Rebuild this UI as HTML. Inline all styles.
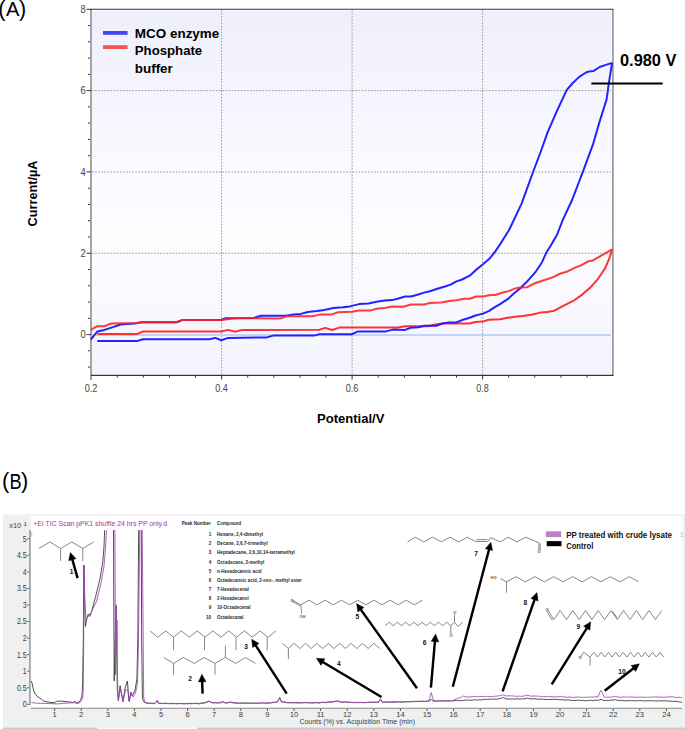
<!DOCTYPE html>
<html><head><meta charset="utf-8"><style>
html,body{margin:0;padding:0;background:#fff;overflow:hidden}
svg{display:block}
text{font-family:"Liberation Sans",sans-serif}
</style></head><body>
<svg width="685" height="729" viewBox="0 0 685 729" font-family="Liberation Sans, sans-serif">
<rect width="685" height="729" fill="#fff"/>
<text x="-1.8" y="15.6" font-size="21.5">(</text><text x="6.0" y="16.4" font-size="20.2" textLength="13.4" lengthAdjust="spacingAndGlyphs">A</text><text x="19.0" y="15.6" font-size="21.5">)</text>
<defs><linearGradient id="bg" x1="0" y1="0" x2="0" y2="1"><stop offset="0" stop-color="#efeffc"/><stop offset="0.11" stop-color="#f2f2fd"/><stop offset="0.25" stop-color="#f5f5fe"/><stop offset="0.42" stop-color="#f9f9ff"/><stop offset="0.62" stop-color="#fdfdff"/><stop offset="0.69" stop-color="#fbfbfe"/><stop offset="0.8" stop-color="#f8f8fe"/><stop offset="0.93" stop-color="#f5f5fe"/><stop offset="1" stop-color="#f4f4fd"/></linearGradient></defs>
<rect x="92" y="10" width="520" height="365" fill="url(#bg)"/>
<line x1="92" y1="10.5" x2="611" y2="10.5" stroke="#fff" stroke-width="1"/>
<line x1="611.5" y1="10" x2="611.5" y2="374.5" stroke="#fff" stroke-width="1"/>
<line x1="92" y1="374.4" x2="611" y2="374.4" stroke="#fff" stroke-width="1"/>
<g stroke="#9a9a9a" stroke-width="1" stroke-dasharray="1.6 1.5"><line x1="221.6" y1="10" x2="221.6" y2="374"/><line x1="352.1" y1="10" x2="352.1" y2="374"/><line x1="482.6" y1="10" x2="482.6" y2="374"/><line x1="92" y1="90.6" x2="611" y2="90.6"/><line x1="92" y1="172.0" x2="611" y2="172.0"/><line x1="92" y1="253.3" x2="611" y2="253.3"/></g>
<line x1="92" y1="334.9" x2="611" y2="334.9" stroke="#b2c8f2" stroke-width="1.5"/>
<line x1="91" y1="9" x2="91" y2="380" stroke="#a3a3a3" stroke-width="2"/>
<line x1="612.9" y1="9" x2="612.9" y2="376" stroke="#9a9aa4" stroke-width="1.8"/>
<line x1="90" y1="9.3" x2="613.3" y2="9.3" stroke="#333" stroke-width="1.1"/>
<line x1="91" y1="375.4" x2="613.3" y2="375.4" stroke="#333" stroke-width="1.1"/>
<g stroke="#333" stroke-width="1"><line x1="86.5" y1="9.3" x2="90.8" y2="9.3"/><line x1="88" y1="25.6" x2="90" y2="25.6"/><line x1="88" y1="41.8" x2="90" y2="41.8"/><line x1="88" y1="58.1" x2="90" y2="58.1"/><line x1="88" y1="74.4" x2="90" y2="74.4"/><line x1="86.5" y1="90.6" x2="90.8" y2="90.6"/><line x1="88" y1="106.9" x2="90" y2="106.9"/><line x1="88" y1="123.1" x2="90" y2="123.1"/><line x1="88" y1="139.4" x2="90" y2="139.4"/><line x1="88" y1="155.7" x2="90" y2="155.7"/><line x1="86.5" y1="171.9" x2="90.8" y2="171.9"/><line x1="88" y1="188.2" x2="90" y2="188.2"/><line x1="88" y1="204.5" x2="90" y2="204.5"/><line x1="88" y1="220.7" x2="90" y2="220.7"/><line x1="88" y1="237.0" x2="90" y2="237.0"/><line x1="86.5" y1="253.3" x2="90.8" y2="253.3"/><line x1="88" y1="269.5" x2="90" y2="269.5"/><line x1="88" y1="285.8" x2="90" y2="285.8"/><line x1="88" y1="302.1" x2="90" y2="302.1"/><line x1="88" y1="318.3" x2="90" y2="318.3"/><line x1="86.5" y1="334.6" x2="90.8" y2="334.6"/><line x1="88" y1="350.8" x2="90" y2="350.8"/><line x1="88" y1="367.1" x2="90" y2="367.1"/><line x1="117.2" y1="375.5" x2="117.2" y2="377.6"/><line x1="143.3" y1="375.5" x2="143.3" y2="377.6"/><line x1="169.4" y1="375.5" x2="169.4" y2="377.6"/><line x1="195.5" y1="375.5" x2="195.5" y2="377.6"/><line x1="221.6" y1="375.5" x2="221.6" y2="379.5"/><line x1="247.7" y1="375.5" x2="247.7" y2="377.6"/><line x1="273.8" y1="375.5" x2="273.8" y2="377.6"/><line x1="299.9" y1="375.5" x2="299.9" y2="377.6"/><line x1="326.0" y1="375.5" x2="326.0" y2="377.6"/><line x1="352.1" y1="375.5" x2="352.1" y2="379.5"/><line x1="378.2" y1="375.5" x2="378.2" y2="377.6"/><line x1="404.3" y1="375.5" x2="404.3" y2="377.6"/><line x1="430.4" y1="375.5" x2="430.4" y2="377.6"/><line x1="456.5" y1="375.5" x2="456.5" y2="377.6"/><line x1="482.6" y1="375.5" x2="482.6" y2="379.5"/><line x1="508.7" y1="375.5" x2="508.7" y2="377.6"/><line x1="534.8" y1="375.5" x2="534.8" y2="377.6"/><line x1="560.9" y1="375.5" x2="560.9" y2="377.6"/><line x1="587.0" y1="375.5" x2="587.0" y2="377.6"/></g>
<g font-size="10.4" fill="#444"><text x="85.6" y="13.0" text-anchor="end" textLength="5.2" lengthAdjust="spacingAndGlyphs">8</text><text x="85.6" y="94.3" text-anchor="end" textLength="5.2" lengthAdjust="spacingAndGlyphs">6</text><text x="85.6" y="175.7" text-anchor="end" textLength="5.2" lengthAdjust="spacingAndGlyphs">4</text><text x="85.6" y="257.0" text-anchor="end" textLength="5.2" lengthAdjust="spacingAndGlyphs">2</text><text x="85.6" y="338.3" text-anchor="end" textLength="5.2" lengthAdjust="spacingAndGlyphs">0</text><text x="84.8" y="392.2" textLength="12.6" lengthAdjust="spacingAndGlyphs">0.2</text><text x="215.3" y="392.2" textLength="12.6" lengthAdjust="spacingAndGlyphs">0.4</text><text x="345.8" y="392.2" textLength="12.6" lengthAdjust="spacingAndGlyphs">0.6</text><text x="476.3" y="392.2" textLength="12.6" lengthAdjust="spacingAndGlyphs">0.8</text></g>
<g fill="none" stroke-width="2" stroke-linejoin="round">
<polyline points="612.1,249.4 609.5,257.8 605.1,268.3 598.1,278.8 591.1,286.7 582.3,294.6 573.6,300.7 564.8,305.1 554.3,310.7 547.3,312.1 540.3,312.6 531.5,314.7 522.8,316.1 515.2,316.8 507.6,317.8 500.1,319.3 488.7,319.7 483.0,321.6 475.4,322.0 469.7,323.5 443.1,323.5 435.5,324.4 428.0,326.3 405.2,326.3 397.6,327.6 339.3,327.6 332.3,330.0 325.3,327.9 319.4,329.8 248.0,329.9 242.2,329.9 235.2,331.7 228.2,329.9 221.2,331.5 142.9,331.5 137.0,334.1 97.3,334.1" stroke="#ff3030"/>
<polyline points="612.1,62.9 609.3,80.2 606.6,99.4 599.7,121.3 592.9,144.7 583.3,170.7 572.3,199.5 562.7,220.1 556.9,235.0 550.8,245.5 546.4,252.5 542.0,262.2 535.0,272.7 526.3,282.3 520.0,288.5 513.3,294.1 507.6,299.2 500.1,304.1 494.4,307.4 488.7,311.2 483.0,313.6 475.4,315.5 469.7,317.8 463.1,319.7 456.4,322.5 448.8,322.5 442.2,323.5 436.5,325.8 424.2,325.8 418.5,327.3 410.9,327.7 404.2,330.1 393.0,329.6 386.0,331.4 358.0,331.4 352.1,334.2 319.4,334.2 314.8,335.4 273.9,335.4 266.9,337.4 228.2,337.9 221.2,340.2 215.3,337.9 209.5,339.3 142.9,339.3 137.0,341.1 97.3,341.1" stroke="#2222ff"/>
<polyline points="90.8,339.7 97.3,331.5 104.4,329.9 111.4,327.6 120.7,324.5 134.7,323.4 141.7,322.2 176.8,322.2 182.6,319.9 221.2,319.9 225.8,318.2 254.0,317.9 261.0,315.7 285.6,315.7 293.7,314.6 300.7,313.9 307.8,312.0 317.1,311.1 324.1,309.9 333.5,308.0 342.8,307.3 349.8,306.4 359.2,304.1 368.5,303.4 377.9,301.5 384.9,300.6 391.9,300.1 397.6,298.8 405.2,296.5 410.9,296.5 416.6,295.0 424.2,292.6 429.8,291.2 437.4,288.8 445.0,286.5 450.7,284.6 456.4,281.4 462.1,279.5 469.7,275.7 475.4,270.4 483.0,264.3 489.6,258.6 495.3,251.4 500.1,244.2 502.3,240.7 509.2,229.7 521.6,203.6 532.5,173.5 540.8,151.5 547.6,132.3 557.2,110.4 566.8,89.8 572.3,83.5 579.2,76.9 586.0,72.5 589.3,71.4 593.7,70.9 599.7,67.0 605.2,65.1 612.1,62.9" stroke="#2222ff"/>
<polyline points="90.8,329.9 97.3,326.2 104.4,326.2 111.4,323.4 137.0,322.9 141.7,322.2 176.8,322.2 182.6,319.9 221.2,319.9 235.2,318.2 280.9,318.4 286.7,316.2 312.4,316.2 319.4,314.6 331.1,314.6 338.1,312.2 352.1,311.8 359.2,310.4 370.8,310.4 377.9,308.5 384.9,308.0 391.9,306.6 403.3,306.8 410.9,304.5 424.2,304.5 429.8,303.0 441.2,302.6 450.7,300.7 456.4,300.3 464.0,298.8 469.7,298.8 476.3,296.5 483.0,296.5 490.6,295.0 495.3,295.0 502.0,292.8 509.5,290.9 515.2,288.4 520.0,287.4 527.2,287.2 535.0,283.2 543.8,280.2 552.6,277.4 560.4,273.5 566.6,271.8 574.5,267.9 581.5,265.1 587.6,261.6 592.9,260.4 599.9,256.4 605.1,253.4 612.1,249.4" stroke="#ff2020" stroke-opacity="0.88"/>
</g>
<rect x="103" y="31" width="24.6" height="3.8" fill="#4545f5"/>
<rect x="103" y="45.2" width="24.6" height="3.8" fill="#f55555"/>
<g font-weight="bold" font-size="13.2" fill="#000">
<text x="134.8" y="38" textLength="84.5" lengthAdjust="spacingAndGlyphs">MCO enzyme</text>
<text x="134.8" y="55.1" textLength="67.4" lengthAdjust="spacingAndGlyphs">Phosphate</text>
<text x="134.8" y="73.1" textLength="38" lengthAdjust="spacingAndGlyphs">buffer</text>
</g>
<text x="620" y="65.5" font-weight="bold" font-size="15.8" textLength="56.4" lengthAdjust="spacingAndGlyphs">0.980 V</text>
<line x1="591.4" y1="83.4" x2="662.7" y2="83.4" stroke="#000" stroke-width="2"/>
<text x="317" y="423.4" font-weight="bold" font-size="12.3" textLength="67.4" lengthAdjust="spacingAndGlyphs">Potential/V</text>
<text transform="translate(37.3,226.4) rotate(-90)" x="0" y="0" font-weight="bold" font-size="12.6" textLength="65.8" lengthAdjust="spacingAndGlyphs">Current/µA</text>
<text x="1.9" y="488.3" font-size="21.8">(</text><text x="9.4" y="488.6" font-size="21.2" textLength="12.2" lengthAdjust="spacingAndGlyphs">B</text><text x="21.0" y="488.3" font-size="21.8">)</text>
<rect x="3" y="514.3" width="682" height="214.7" fill="#f0f0f0"/>
<rect x="31" y="516" width="651.5" height="191.6" fill="#fff"/>
<rect x="3" y="727.6" width="94" height="1.4" fill="#c9c9cc"/>
<rect x="97" y="727.6" width="100" height="1.4" fill="#fafafa"/>
<rect x="197" y="727.6" width="488" height="1.4" fill="#c9c9cc"/>
<line x1="29.9" y1="530" x2="29.9" y2="705" stroke="#a6a6a6" stroke-width="1.8"/>
<line x1="31" y1="708.3" x2="682" y2="708.3" stroke="#a0a0a0" stroke-width="1.2"/>
<rect x="31.2" y="532" width="1" height="5" fill="#aac4ee"/>
<g stroke="#444" stroke-width="0.9"><line x1="27.3" y1="704.3" x2="29.2" y2="704.3"/><line x1="27.3" y1="687.8" x2="29.2" y2="687.8"/><line x1="27.3" y1="671.2" x2="29.2" y2="671.2"/><line x1="27.3" y1="654.6" x2="29.2" y2="654.6"/><line x1="27.3" y1="638.1" x2="29.2" y2="638.1"/><line x1="27.3" y1="621.5" x2="29.2" y2="621.5"/><line x1="27.3" y1="605.0" x2="29.2" y2="605.0"/><line x1="27.3" y1="588.4" x2="29.2" y2="588.4"/><line x1="27.3" y1="571.9" x2="29.2" y2="571.9"/><line x1="27.3" y1="555.3" x2="29.2" y2="555.3"/><line x1="27.3" y1="538.8" x2="29.2" y2="538.8"/><line x1="54.6" y1="708.5" x2="54.6" y2="711"/><line x1="81.2" y1="708.5" x2="81.2" y2="711"/><line x1="107.8" y1="708.5" x2="107.8" y2="711"/><line x1="134.4" y1="708.5" x2="134.4" y2="711"/><line x1="161.0" y1="708.5" x2="161.0" y2="711"/><line x1="187.6" y1="708.5" x2="187.6" y2="711"/><line x1="214.2" y1="708.5" x2="214.2" y2="711"/><line x1="240.8" y1="708.5" x2="240.8" y2="711"/><line x1="267.4" y1="708.5" x2="267.4" y2="711"/><line x1="294.0" y1="708.5" x2="294.0" y2="711"/><line x1="320.6" y1="708.5" x2="320.6" y2="711"/><line x1="347.2" y1="708.5" x2="347.2" y2="711"/><line x1="373.8" y1="708.5" x2="373.8" y2="711"/><line x1="400.4" y1="708.5" x2="400.4" y2="711"/><line x1="427.0" y1="708.5" x2="427.0" y2="711"/><line x1="453.6" y1="708.5" x2="453.6" y2="711"/><line x1="480.2" y1="708.5" x2="480.2" y2="711"/><line x1="506.8" y1="708.5" x2="506.8" y2="711"/><line x1="533.4" y1="708.5" x2="533.4" y2="711"/><line x1="560.0" y1="708.5" x2="560.0" y2="711"/><line x1="586.6" y1="708.5" x2="586.6" y2="711"/><line x1="613.2" y1="708.5" x2="613.2" y2="711"/><line x1="639.8" y1="708.5" x2="639.8" y2="711"/><line x1="666.4" y1="708.5" x2="666.4" y2="711"/></g>
<g font-size="8.3" fill="#3a3a3a"><text x="22.82" y="707.2" textLength="3.88" lengthAdjust="spacingAndGlyphs">0</text><text x="17.01" y="690.6" textLength="9.69" lengthAdjust="spacingAndGlyphs">0.5</text><text x="22.82" y="674.1" textLength="3.88" lengthAdjust="spacingAndGlyphs">1</text><text x="17.01" y="657.5" textLength="9.69" lengthAdjust="spacingAndGlyphs">1.5</text><text x="22.82" y="641.0" textLength="3.88" lengthAdjust="spacingAndGlyphs">2</text><text x="17.01" y="624.4" textLength="9.69" lengthAdjust="spacingAndGlyphs">2.5</text><text x="22.82" y="607.9" textLength="3.88" lengthAdjust="spacingAndGlyphs">3</text><text x="17.01" y="591.3" textLength="9.69" lengthAdjust="spacingAndGlyphs">3.5</text><text x="22.82" y="574.8" textLength="3.88" lengthAdjust="spacingAndGlyphs">4</text><text x="17.01" y="558.2" textLength="9.69" lengthAdjust="spacingAndGlyphs">4.5</text><text x="22.82" y="541.7" textLength="3.88" lengthAdjust="spacingAndGlyphs">5</text></g>
<g font-size="7.6" fill="#3c3c3c"><text x="54.6" y="717" text-anchor="middle">1</text><text x="81.2" y="717" text-anchor="middle">2</text><text x="107.8" y="717" text-anchor="middle">3</text><text x="134.4" y="717" text-anchor="middle">4</text><text x="161.0" y="717" text-anchor="middle">5</text><text x="187.6" y="717" text-anchor="middle">6</text><text x="214.2" y="717" text-anchor="middle">7</text><text x="240.8" y="717" text-anchor="middle">8</text><text x="267.4" y="717" text-anchor="middle">9</text><text x="294.0" y="717" text-anchor="middle">10</text><text x="320.6" y="717" text-anchor="middle">11</text><text x="347.2" y="717" text-anchor="middle">12</text><text x="373.8" y="717" text-anchor="middle">13</text><text x="400.4" y="717" text-anchor="middle">14</text><text x="427.0" y="717" text-anchor="middle">15</text><text x="453.6" y="717" text-anchor="middle">16</text><text x="480.2" y="717" text-anchor="middle">17</text><text x="506.8" y="717" text-anchor="middle">18</text><text x="533.4" y="717" text-anchor="middle">19</text><text x="560.0" y="717" text-anchor="middle">20</text><text x="586.6" y="717" text-anchor="middle">21</text><text x="613.2" y="717" text-anchor="middle">22</text><text x="639.8" y="717" text-anchor="middle">23</text><text x="666.4" y="717" text-anchor="middle">24</text></g>
<text x="299.4" y="724.2" font-size="7.6" fill="#3c3c3c" textLength="115.6" lengthAdjust="spacingAndGlyphs">Counts (%) vs. Acquisition Time (min)</text>
<text x="9.3" y="527.8" font-size="7.4" fill="#3c3c3c">x10</text>
<text x="23.6" y="525.6" font-size="6.2" fill="#3c3c3c">1</text>
<text x="33.2" y="525.6" font-size="8" fill="#9c38a4" textLength="134" lengthAdjust="spacingAndGlyphs">+EI TIC Scan pPK1 shuffle 24 hrs PP only.d</text>
<text x="679.4" y="537.4" font-size="7.6" fill="#b4bfd2">1</text>
<defs><clipPath id="cb"><rect x="31" y="530" width="651" height="178"/></clipPath></defs>
<g clip-path="url(#cb)" fill="none" stroke-linejoin="round">
<polyline points="31.3,681.0 32.1,683.3 33.1,688.4 34.6,693.0 37.2,696.4 41.3,699.1 43.3,700.9 48.4,702.2 54.6,702.7 56.6,701.2 61.7,701.2 68.9,701.9 73.5,702.5 75.0,701.2 76.5,702.7 78.1,702.9 80.1,700.7 81.6,697.1 82.2,692.5 82.7,680.2 83.3,640.0 83.8,565.0 84.6,600.0 85.4,626.4 86.5,620.0 88.2,614.2 89.3,616.5 90.2,615.5 91.6,611.4 95.7,596.3 99.8,579.9 102.6,563.4 104.0,547.0 104.6,530.5 104.8,525.0 113.5,525.0 113.8,600.0 114.2,681.0 115.2,640.0 116.0,606.0 116.6,640.0 117.3,690.0 118.3,700.6 120.1,685.7 122.9,701.5 125.2,687.5 127.4,681.0 129.0,701.0 130.8,692.2 132.2,695.9 135.0,690.3 136.9,679.0 137.8,640.0 138.7,525.0 141.2,525.0 141.7,640.0 142.4,698.0 143.5,701.5 145.0,702.5 149.6,703.3 151.4,703.1 153.2,703.3 155.0,703.3 157.2,700.6 158.5,703.3 160.1,703.3 161.8,703.4 163.4,703.5 165.1,703.2 166.7,703.2 168.4,703.7 170.0,703.5 171.5,703.4 173.0,703.3 174.5,703.8 176.0,703.5 177.5,703.7 179.0,703.5 180.5,703.5 182.0,703.3 183.5,703.5 185.0,703.7 186.5,703.5 188.0,703.6 189.5,703.5 191.0,703.2 192.5,703.6 194.0,703.5 195.5,703.3 197.0,703.1 198.5,703.6 200.0,703.4 201.7,703.1 203.3,703.0 205.0,702.6 207.0,702.0 209.0,701.0 210.5,701.9 212.0,702.6 213.6,702.9 215.2,702.6 216.8,702.9 218.4,702.7 220.0,702.8 222.7,701.6 225.0,702.8 226.5,702.9 228.0,702.7 229.5,702.1 231.0,702.2 233.0,702.4 235.0,703.0 236.5,702.8 238.0,703.3 239.5,703.0 241.0,703.1 242.5,702.9 244.0,703.1 245.5,703.0 247.0,703.0 248.5,703.1 250.0,703.1 251.5,703.1 253.1,703.3 254.6,703.1 256.2,703.3 257.7,703.2 259.2,703.3 260.8,703.0 262.3,702.7 263.8,703.1 265.4,703.1 266.9,703.1 268.5,702.9 270.0,702.8 271.5,702.7 273.0,702.2 274.5,702.4 276.0,702.0 277.5,701.8 279.7,697.8 281.5,701.8 283.2,701.8 284.9,701.9 286.6,702.5 288.3,702.7 290.0,702.6 291.5,702.4 293.0,702.8 294.5,702.6 296.0,702.4 297.5,702.5 299.0,702.8 300.5,702.9 302.0,702.4 303.5,702.7 305.0,702.4 306.5,702.8 308.0,702.6 309.5,702.9 311.0,703.0 312.5,702.7 314.0,703.0 315.5,702.6 317.0,702.4 318.5,702.8 320.0,702.7 321.6,702.3 323.2,702.3 324.9,702.3 326.5,702.3 328.1,701.9 329.8,701.8 331.4,702.1 333.0,701.8 334.5,701.4 336.0,701.4 337.5,700.8 340.0,701.8 341.5,702.1 343.0,701.9 344.5,702.0 346.0,702.1 347.5,702.3 349.0,702.3 350.5,702.4 352.0,702.5 353.5,702.8 355.0,702.6 356.5,702.6 358.0,702.5 359.5,702.7 361.0,702.4 362.5,702.4 364.0,702.8 365.5,702.5 367.0,702.5 368.5,702.2 370.0,702.5 371.7,702.4 373.4,702.4 375.1,702.0 376.8,702.3 378.5,702.2 380.4,699.6 382.5,702.2 384.1,702.3 385.7,701.9 387.3,702.2 388.9,702.1 390.5,702.3 392.0,702.1 393.6,702.3 395.2,702.3 396.8,701.8 398.4,701.8 400.0,702.1 401.5,702.2 403.1,702.3 404.6,701.8 406.2,701.9 407.7,701.9 409.2,701.7 410.8,701.7 412.3,701.6 413.8,701.6 415.4,701.7 416.9,701.5 418.5,701.5 420.0,701.5 421.5,701.6 423.0,701.1 424.5,701.4 426.0,701.4 427.5,701.1 429.0,701.2 431.3,699.4 433.5,701.2 435.0,701.0 436.5,701.3 438.0,701.0 439.5,700.9 441.0,701.0 442.5,701.2 444.0,700.8 445.5,700.9 447.0,700.9 448.5,701.1 450.0,700.9 451.7,700.8 453.3,701.0 455.0,700.5 456.7,700.5 458.3,700.7 460.0,700.5 461.5,700.7 463.1,700.4 464.6,700.2 466.2,700.1 467.7,700.2 469.2,700.0 470.8,700.3 472.3,700.3 473.8,699.8 475.4,699.8 476.9,700.1 478.5,699.9 480.0,699.8 481.5,699.9 483.1,699.6 484.6,699.3 486.2,699.4 487.7,699.6 489.2,699.2 490.8,699.2 492.3,699.1 493.8,699.1 495.4,699.0 496.9,699.2 498.5,698.7 500.0,698.8 501.6,697.9 503.2,697.5 506.0,698.8 507.6,699.1 509.2,699.0 510.8,699.1 512.3,698.8 513.9,699.1 515.5,699.1 517.1,698.6 518.7,698.9 520.2,699.0 521.8,698.9 523.4,698.8 525.0,698.8 527.7,698.0 530.0,698.9 531.5,698.8 533.0,698.9 534.5,698.8 536.0,698.8 537.5,699.1 539.0,699.0 540.5,699.3 542.0,698.9 543.5,699.5 545.0,699.4 546.5,699.5 548.0,699.6 549.5,699.6 551.0,699.4 552.5,699.1 554.0,699.6 555.5,699.3 557.0,699.4 558.5,699.7 560.0,699.6 561.5,699.7 563.0,699.7 564.5,700.1 566.0,700.0 567.5,699.9 569.0,699.9 570.5,700.4 572.0,700.2 573.5,700.5 575.0,700.4 576.5,700.3 578.1,700.2 579.6,700.4 581.1,700.6 582.7,700.2 584.2,700.6 585.7,700.7 587.3,700.6 588.8,700.6 590.3,700.1 591.9,700.5 593.4,700.6 594.9,700.1 596.5,700.3 598.0,700.4 599.5,699.8 601.0,699.4 602.5,700.0 604.0,700.5 605.6,700.4 607.2,700.4 608.8,700.5 610.4,700.0 612.0,700.3 614.5,699.7 616.2,699.9 618.0,700.6 619.5,700.4 621.0,700.4 622.6,700.4 624.1,700.9 625.6,700.9 627.1,700.4 628.7,700.7 630.2,700.6 631.7,700.6 633.2,700.7 634.8,700.8 636.3,700.8 637.8,700.7 639.3,700.6 640.9,700.7 642.4,700.6 643.9,700.9 645.4,701.0 647.0,700.8 648.5,700.6 650.0,700.9 651.5,700.7 653.0,700.8 654.5,700.9 656.0,701.0 657.5,700.8 659.0,701.0 660.5,700.9 662.0,700.8 663.5,700.7 665.0,700.8 666.7,700.9 668.3,701.1 670.0,701.1 671.7,701.3 673.3,701.3 675.0,701.4 676.8,701.4 678.5,701.8 680.2,702.1 682.0,702.2" stroke="#3a3a3a" stroke-width="0.9"/>
<polyline points="31.3,702.5 36.2,703.2 48.4,703.5 57.6,703.9 63.8,703.3 74.0,702.7 77.0,703.5 80.1,702.5 82.7,698.6 83.2,690.4 83.7,640.0 84.1,565.0 84.8,600.0 85.9,618.5 86.1,618.3 88.9,615.5 91.6,611.4 96.4,601.8 101.2,582.6 104.0,566.2 105.6,547.0 106.4,530.5 106.6,525.0 114.9,525.0 115.2,600.0 115.5,675.0 115.9,615.0 116.3,604.7 116.7,650.0 117.0,620.0 117.4,672.0 117.8,690.0 118.5,700.0 120.5,688.0 123.0,702.0 125.5,690.0 127.5,689.5 129.5,702.0 131.0,692.0 133.0,697.0 135.5,693.0 137.5,683.0 138.5,640.0 139.8,525.0 142.2,525.0 143.2,640.0 143.7,698.0 145.2,702.5 147.0,703.5 148.5,703.4 150.0,703.6 151.7,703.4 153.3,703.7 155.0,703.6 157.2,700.3 158.8,703.6 160.4,703.4 162.0,703.7 163.6,703.6 165.2,703.4 166.8,703.7 168.4,703.5 170.0,703.8 171.5,703.8 173.0,703.5 174.5,703.5 176.0,703.7 177.5,704.0 179.0,703.5 180.5,703.6 182.0,703.8 183.5,704.0 185.0,703.8 186.5,703.7 188.0,704.0 189.5,703.5 191.0,703.9 192.5,703.6 194.0,703.5 195.5,703.5 197.0,703.6 198.5,703.9 200.0,703.7 201.7,703.2 203.3,703.2 205.0,702.9 207.0,702.1 209.0,701.2 210.5,702.0 212.0,702.9 213.6,702.9 215.2,702.7 216.8,702.7 218.4,702.8 220.0,703.0 222.7,701.8 225.0,703.0 226.5,703.0 228.0,702.7 229.5,702.4 231.0,702.4 233.0,702.9 235.0,703.2 236.5,703.2 238.0,703.1 239.5,703.4 241.0,703.4 242.5,703.1 244.0,703.3 245.5,703.3 247.0,703.5 248.5,703.4 250.0,703.3 251.5,703.1 253.1,703.5 254.6,703.0 256.2,703.2 257.7,703.3 259.2,703.0 260.8,703.1 262.3,702.8 263.8,703.2 265.4,703.2 266.9,703.1 268.5,703.2 270.0,703.0 271.5,702.7 273.0,702.7 274.5,702.5 276.0,702.2 277.5,702.0 279.7,697.4 281.5,702.0 283.2,702.1 284.9,702.5 286.6,702.7 288.3,702.6 290.0,702.8 291.5,702.9 293.0,702.5 294.5,702.9 296.0,702.9 297.5,703.1 299.0,703.0 300.5,702.7 302.0,702.8 303.5,702.9 305.0,702.6 306.5,702.8 308.0,702.7 309.5,702.6 311.0,702.6 312.5,703.0 314.0,702.7 315.5,702.7 317.0,702.8 318.5,703.1 320.0,702.9 321.6,702.5 323.2,702.6 324.9,702.6 326.5,702.7 328.1,702.5 329.8,702.4 331.4,702.0 333.0,702.0 334.5,701.6 336.0,701.2 337.5,701.0 340.0,702.0 341.5,702.3 343.0,702.4 344.5,701.9 346.0,702.0 347.5,702.1 349.0,702.1 350.5,702.3 352.0,702.5 353.5,702.3 355.0,702.5 356.5,702.2 358.0,702.4 359.5,702.4 361.0,702.5 362.5,702.7 364.0,702.5 365.5,702.4 367.0,702.4 368.5,702.4 370.0,702.3 371.7,702.0 373.4,702.4 375.1,702.3 376.8,702.3 378.5,702.0 380.4,698.8 382.5,702.0 384.1,702.2 385.7,701.9 387.3,701.9 388.9,701.8 390.5,702.1 392.0,701.7 393.6,701.7 395.2,701.8 396.8,701.8 398.4,701.9 400.0,702.0 401.5,701.7 403.1,701.6 404.6,701.6 406.2,701.5 407.7,701.6 409.2,701.4 410.8,701.8 412.3,701.6 413.8,701.3 415.4,701.3 416.9,701.3 418.5,701.3 420.0,701.3 421.5,701.0 423.0,701.4 424.5,701.4 426.0,701.1 427.5,701.0 429.0,701.0 431.3,692.5 433.5,701.0 435.0,700.7 436.5,700.7 438.0,700.9 439.5,700.8 441.0,701.1 442.5,700.7 444.0,700.6 445.5,701.1 447.0,700.9 448.5,700.6 450.0,700.8 451.5,700.7 453.0,700.5 455.0,699.4 457.0,698.8 458.6,698.2 460.3,697.5 461.9,697.0 463.4,696.0 466.0,697.0 468.0,697.1 470.0,696.8 471.7,696.9 473.3,696.6 475.0,696.6 476.7,696.5 478.3,696.8 480.0,696.6 481.5,696.6 483.0,696.7 484.5,696.4 486.0,696.3 487.5,696.6 489.0,696.7 490.5,696.5 492.0,696.5 493.5,696.4 495.0,696.2 496.7,696.2 498.3,695.8 500.0,695.8 501.6,695.3 503.2,694.7 506.0,696.0 507.6,695.9 509.1,695.8 510.7,695.8 512.2,696.0 513.8,696.0 515.3,696.2 516.9,696.4 518.4,696.1 520.0,696.2 521.7,696.3 523.3,696.2 525.0,695.8 527.7,695.2 530.0,696.0 531.5,696.3 533.0,696.0 534.5,696.0 536.0,696.1 537.5,696.1 539.0,696.2 540.5,696.5 542.0,696.7 543.5,696.7 545.0,696.6 546.5,696.6 548.0,696.7 549.5,696.8 551.0,696.4 552.5,696.7 554.0,696.9 555.5,696.8 557.0,696.8 558.5,696.7 560.0,696.7 561.5,696.6 563.0,697.0 564.5,696.8 566.0,697.1 567.5,697.3 569.0,697.0 570.5,697.1 572.0,697.4 573.5,697.4 575.0,697.3 576.5,697.1 578.0,697.0 579.5,697.0 581.0,697.5 582.5,697.4 584.0,697.0 585.5,697.4 587.0,697.4 588.5,697.2 590.0,697.1 591.6,697.0 593.2,697.1 594.8,696.8 596.4,696.7 598.0,697.0 599.5,693.0 601.0,690.4 602.5,693.0 604.0,697.0 605.6,697.3 607.2,697.1 608.8,697.0 610.4,697.3 612.0,697.0 614.5,696.4 616.2,696.7 618.0,697.1 619.6,697.3 621.1,697.3 622.7,696.9 624.3,697.0 625.9,697.0 627.4,697.0 629.0,697.2 630.6,697.0 632.1,697.1 633.7,697.0 635.3,697.4 636.9,697.1 638.4,697.2 640.0,697.2 641.6,697.2 643.1,697.4 644.7,697.1 646.2,697.4 647.8,697.2 649.3,697.2 650.9,697.2 652.4,696.9 654.0,697.1 655.6,697.0 657.1,696.8 658.7,697.3 660.2,696.9 661.8,697.1 663.3,697.3 664.9,697.1 666.4,697.0 668.0,697.1 670.0,696.9 672.0,696.6 673.5,697.0 675.0,697.3 676.8,697.5 678.5,697.2 680.2,697.6 682.0,697.6" stroke="#a048b0" stroke-width="0.9" stroke-opacity="0.95"/>
</g>
<g fill="none" stroke="#707070" stroke-width="0.85" stroke-linejoin="miter"><polyline points="38.8,548.5 49.9,542.0 60.6,548.5 71.8,542.0 82.8,548.5 93.6,542.0"/><line x1="60.6" y1="548.5" x2="60.6" y2="561"/><line x1="82.8" y1="548.5" x2="82.8" y2="561"/><polyline points="149.9,630.9 157.8,637.2 165.7,630.9 173.5,637.2 181.4,630.9 189.3,637.2 197.2,630.9 205.1,637.2 212.9,630.9 220.8,637.2 228.7,630.9 236.6,637.2 244.4,630.9 252.3,637.2 260.2,630.9 268.1,637.2 276.0,630.9"/><line x1="173.6" y1="637.2" x2="173.6" y2="650.2"/><line x1="204.5" y1="637.2" x2="204.5" y2="650.2"/><line x1="236.0" y1="637.2" x2="236.0" y2="650.2"/><line x1="267.2" y1="637.2" x2="267.2" y2="650.2"/><polyline points="163.7,657.5 173.6,663.4 183.4,657.5 194.3,663.4 204.1,657.5 215.0,663.4 225.4,657.5 235.7,663.4 245.5,657.5 255.4,663.4"/><line x1="173.6" y1="663.4" x2="173.6" y2="674.7"/><line x1="215" y1="663.4" x2="215" y2="674.7"/><line x1="225.4" y1="657.5" x2="225.4" y2="645.7"/><polyline points="282.3,643.4 288.4,648.5 294.1,643.4 299.8,648.5 305.5,643.4 311.2,648.5 316.9,643.4 322.6,648.5 328.3,643.4 334.0,648.5 339.7,643.4 345.4,648.5 351.1,643.4 356.8,648.5 362.5,643.4 368.2,648.5 373.9,643.4 379.6,648.5"/><line x1="288.4" y1="648.5" x2="288.4" y2="659.2"/><polyline points="300.9,604.8 309.0,600.2 317.1,604.8 325.2,600.2 333.3,604.8 341.4,600.2 349.6,604.8 357.7,600.2 365.8,604.8 373.9,600.2 382.0,604.8 390.1,600.2 398.2,604.8 406.3,600.2 414.4,604.8 422.5,600.2"/><line x1="292.4" y1="600.2" x2="300.9" y2="604.8"/><line x1="292.2" y1="601.4" x2="300.2" y2="605.8"/><line x1="300.9" y1="604.8" x2="301.5" y2="613.5"/><polyline points="385.1,625.7 389.2,622.2 393.3,625.7 397.4,622.2 401.5,625.7 405.6,622.2 409.7,625.7 413.8,622.2 417.9,625.7 422.1,622.2 426.2,625.7 430.3,622.2 434.4,625.7 438.5,622.2 442.6,625.7 446.7,622.2 450.8,625.7 454.5,622.2 458.1,626.6 462.5,622.2"/><line x1="454.5" y1="622.2" x2="454.5" y2="614.5"/><line x1="450.8" y1="625.7" x2="450.8" y2="634"/><polyline points="407.5,541.9 415.2,537.2 423.8,541.9 432.6,537.2 441.4,541.9 450.0,537.2 458.5,541.9 467.3,537.2 475.5,541.5 488.0,541.5 490.8,537.5 500.0,541.9 508.2,537.2 517.0,541.9 525.6,537.2 533.8,540.5 538.9,542.7 538.9,550.4"/><line x1="476.5" y1="539.6" x2="487.5" y2="539.6"/><line x1="540.2" y1="543.5" x2="540.2" y2="550.4"/><polyline points="506.5,581.8 515.9,576.7 525.4,581.8 534.8,576.7 544.3,581.8 553.7,576.7 563.1,581.8 572.6,576.7 582.0,581.8 591.5,576.7 600.9,581.8 610.3,576.7 619.8,581.8 629.2,576.7 638.7,581.8"/><line x1="500.5" y1="578.6" x2="506.5" y2="581.8"/><line x1="506.5" y1="581.8" x2="506.5" y2="592.6"/><polyline points="553.8,619.6 560.1,610.5 566.5,619.6 572.8,610.5 579.2,619.6 585.5,610.5 591.9,619.6 598.2,610.5 604.6,619.6 610.9,610.5 617.3,619.6 623.6,610.5 630.0,619.6 636.3,610.5 642.7,619.6 649.0,610.5 655.4,619.6 661.8,610.5"/><line x1="547.8" y1="610" x2="553.8" y2="619.6"/><line x1="546.6" y1="611.2" x2="552.3" y2="620.3"/><line x1="612.6" y1="611.4" x2="616.9" y2="617.6"/><polyline points="580.1,657.4 583.7,652.3 590.1,657.0 593.8,652.3 597.5,657.0 601.1,652.3 604.8,657.0 608.5,652.3 612.1,657.0 615.8,652.3 619.5,657.0 623.2,652.3 626.9,657.0 630.5,652.3 634.2,657.0 637.9,652.3 641.6,657.0 645.2,652.3 648.9,657.0 652.6,652.3 656.2,657.0 659.9,652.3 663.6,657.0"/><line x1="590.1" y1="657" x2="590.1" y2="665.6"/></g>
<g font-size="4" fill="#555" font-weight="bold"><text x="299.5" y="618">OH</text><text x="290.4" y="601.6">O</text><text x="537.6" y="553.3">O</text><text x="490.5" y="579">HO</text><text x="545.6" y="611">O</text><text x="453.3" y="614.3">O</text><text x="449.6" y="637">O</text><text x="578.5" y="659">O</text></g>
<g stroke-linecap="butt"><polygon points="70.3,552.4 76.0,558.7 68.7,560.7" fill="#fff" stroke="#fff" stroke-width="2.2" stroke-linejoin="round"/><line x1="77.6" y1="578.1" x2="72.1" y2="558.6" stroke="#000" stroke-width="2.45"/><polygon points="70.3,552.4 76.0,558.7 68.7,560.7" fill="#000" stroke="#000" stroke-width="0.4" stroke-linejoin="miter"/><polygon points="201.9,674.2 206.0,681.7 198.4,681.9" fill="#fff" stroke="#fff" stroke-width="2.2" stroke-linejoin="round"/><line x1="202.6" y1="693.6" x2="202.1" y2="680.7" stroke="#000" stroke-width="2.45"/><polygon points="201.9,674.2 206.0,681.7 198.4,681.9" fill="#000" stroke="#000" stroke-width="0.4" stroke-linejoin="miter"/><polygon points="251.7,639.2 259.0,643.5 252.6,647.6" fill="#fff" stroke="#fff" stroke-width="2.2" stroke-linejoin="round"/><line x1="286.7" y1="693.6" x2="255.2" y2="644.6" stroke="#000" stroke-width="2.45"/><polygon points="251.7,639.2 259.0,643.5 252.6,647.6" fill="#000" stroke="#000" stroke-width="0.4" stroke-linejoin="miter"/><polygon points="316.4,658.2 324.9,658.8 321.0,665.4" fill="#fff" stroke="#fff" stroke-width="2.2" stroke-linejoin="round"/><line x1="381.5" y1="697" x2="321.9" y2="661.5" stroke="#000" stroke-width="2.45"/><polygon points="316.4,658.2 324.9,658.8 321.0,665.4" fill="#000" stroke="#000" stroke-width="0.4" stroke-linejoin="miter"/><polygon points="356.5,603.6 364.0,607.6 357.8,612.0" fill="#fff" stroke="#fff" stroke-width="2.2" stroke-linejoin="round"/><line x1="417" y1="688.2" x2="360.3" y2="608.9" stroke="#000" stroke-width="2.45"/><polygon points="356.5,603.6 364.0,607.6 357.8,612.0" fill="#000" stroke="#000" stroke-width="0.4" stroke-linejoin="miter"/><polygon points="435.6,634.1 438.7,642.0 431.1,641.3" fill="#fff" stroke="#fff" stroke-width="2.2" stroke-linejoin="round"/><line x1="430.9" y1="687.6" x2="435.0" y2="640.5" stroke="#000" stroke-width="2.45"/><polygon points="435.6,634.1 438.7,642.0 431.1,641.3" fill="#000" stroke="#000" stroke-width="0.4" stroke-linejoin="miter"/><polygon points="490.9,542.3 492.6,550.6 485.3,548.7" fill="#fff" stroke="#fff" stroke-width="2.2" stroke-linejoin="round"/><line x1="452.8" y1="686.7" x2="489.3" y2="548.5" stroke="#000" stroke-width="2.45"/><polygon points="490.9,542.3 492.6,550.6 485.3,548.7" fill="#000" stroke="#000" stroke-width="0.4" stroke-linejoin="miter"/><polygon points="537,592.6 538.1,601.0 530.9,598.5" fill="#fff" stroke="#fff" stroke-width="2.2" stroke-linejoin="round"/><line x1="502.6" y1="691.4" x2="534.9" y2="598.7" stroke="#000" stroke-width="2.45"/><polygon points="537,592.6 538.1,601.0 530.9,598.5" fill="#000" stroke="#000" stroke-width="0.4" stroke-linejoin="miter"/><polygon points="590.7,621.8 589.9,630.3 583.5,626.2" fill="#fff" stroke="#fff" stroke-width="2.2" stroke-linejoin="round"/><line x1="551.7" y1="684.4" x2="587.3" y2="627.3" stroke="#000" stroke-width="2.45"/><polygon points="590.7,621.8 589.9,630.3 583.5,626.2" fill="#000" stroke="#000" stroke-width="0.4" stroke-linejoin="miter"/><polygon points="639.4,663.8 635.7,671.5 631.1,665.5" fill="#fff" stroke="#fff" stroke-width="2.2" stroke-linejoin="round"/><line x1="604.7" y1="690.8" x2="634.3" y2="667.8" stroke="#000" stroke-width="2.45"/><polygon points="639.4,663.8 635.7,671.5 631.1,665.5" fill="#000" stroke="#000" stroke-width="0.4" stroke-linejoin="miter"/></g>
<g font-size="6.6" font-weight="bold" fill="#111" text-anchor="middle"><text x="71.5" y="574.2">1</text><text x="190.2" y="681.3">2</text><text x="246.1" y="648.7">3</text><text x="338.8" y="665.8">4</text><text x="357.4" y="619.3">5</text><text x="424.5" y="644.8">6</text><text x="476.2" y="555.9">7</text><text x="525.3" y="605.0">8</text><text x="578.3" y="628.8">9</text><text x="622" y="674.0">10</text></g>
<g font-size="5" font-weight="bold" fill="#2a2a2a"><text x="181.8" y="524.8" textLength="29" lengthAdjust="spacingAndGlyphs">Peak Number</text><text x="217" y="524.8" textLength="24" lengthAdjust="spacingAndGlyphs">Compound</text><text x="211.2" y="536.0" text-anchor="end" font-size="4.6">1</text><text x="217" y="536.0" textLength="46.0" lengthAdjust="spacingAndGlyphs">Hexane, 2,4-dimethyl</text><text x="211.2" y="545.2" text-anchor="end" font-size="4.6">2</text><text x="217" y="545.2" textLength="50.7" lengthAdjust="spacingAndGlyphs">Decane, 2,6,7-trimethyl</text><text x="211.2" y="554.4" text-anchor="end" font-size="4.6">3</text><text x="217" y="554.4" textLength="77.9" lengthAdjust="spacingAndGlyphs">Heptadecane, 2,6,10,14-tetramethyl</text><text x="211.2" y="563.5" text-anchor="end" font-size="4.6">4</text><text x="217" y="563.5" textLength="47.3" lengthAdjust="spacingAndGlyphs">Octadecane, 2-methyl</text><text x="211.2" y="572.7" text-anchor="end" font-size="4.6">5</text><text x="217" y="572.7" textLength="44.5" lengthAdjust="spacingAndGlyphs">n-Hexadecanoic acid</text><text x="211.2" y="581.9" text-anchor="end" font-size="4.6">6</text><text x="217" y="581.9" textLength="84.7" lengthAdjust="spacingAndGlyphs">Octadecanoic acid, 2-oxo-, methyl ester</text><text x="211.2" y="591.1" text-anchor="end" font-size="4.6">7</text><text x="217" y="591.1" textLength="31.7" lengthAdjust="spacingAndGlyphs">7-Hexadecenal</text><text x="211.2" y="600.3" text-anchor="end" font-size="4.6">8</text><text x="217" y="600.3" textLength="31.7" lengthAdjust="spacingAndGlyphs">2-Hexadecanol</text><text x="211.2" y="609.4" text-anchor="end" font-size="4.6">9</text><text x="217" y="609.4" textLength="33.6" lengthAdjust="spacingAndGlyphs">10-Octadecenal</text><text x="211.2" y="618.6" text-anchor="end" font-size="4.6">10</text><text x="217" y="618.6" textLength="26.6" lengthAdjust="spacingAndGlyphs">Octadecanal</text></g>
<rect x="545.8" y="531.3" width="15.3" height="5.8" fill="#c080c8"/>
<rect x="546.7" y="541.1" width="14.8" height="5.1" fill="#000"/>
<g font-size="8.6" font-weight="bold" fill="#111"><text x="566.2" y="538.3" textLength="105.8" lengthAdjust="spacingAndGlyphs">PP treated with crude lysate</text><text x="566.2" y="549.2" textLength="27.1" lengthAdjust="spacingAndGlyphs">Control</text></g>
</svg>
</body></html>
